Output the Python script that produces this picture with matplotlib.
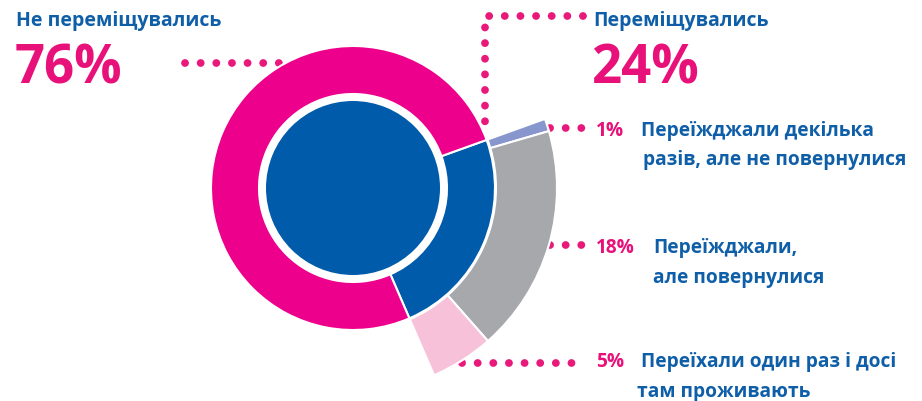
import matplotlib
matplotlib.use('Agg')
import matplotlib.pyplot as plt

W, H = 922, 401

# main split
main_labels = ['Не переміщувались', 'Переміщувались']
main_values = [76, 24]
main_pct = ['76%', '24%']

# breakdown of those who moved (clockwise from the top)
sub_values = [1, 18, 5]
sub_pct = ['1%', '18%', '5%']
sub_labels = ['Переїжджали декілька\nразів, але не повернулися',
              'Переїжджали,\nале повернулися',
              'Переїхали один раз і досі\nтам проживають']

PINK = '#ec008c'
BLUE = '#005baa'
DOT = '#e8197a'
TXT_PINK = '#e8117a'
TXT_BLUE = '#0f5ea8'
sub_colors = ['#8797ce', '#a7a8ac', '#f6c1d9']

plt.rcParams['font.family'] = ['Open Sans', 'DejaVu Sans']
plt.rcParams['font.weight'] = 'bold'

fig = plt.figure(figsize=(W / 100, H / 100), dpi=100)
ax = fig.add_axes([0, 0, 1, 1])

cx, cy = 353, H - 188
top_angle = 19.8
edge = dict(edgecolor='white', linewidth=1.5)

# outer exploded ring for the breakdown
w, _ = ax.pie(sub_values + [main_values[0]], colors=sub_colors + ['none'],
              startangle=top_angle, counterclock=False, radius=204,
              center=(cx, cy), wedgeprops=dict(width=61, **edge))
w[-1].set_visible(False)

# main ring
ax.pie([main_values[1], main_values[0]], colors=[BLUE, PINK],
       startangle=top_angle, counterclock=False, radius=142,
       center=(cx, cy), wedgeprops=dict(width=48, **edge))

# inner disc
ax.pie([1], colors=[BLUE], radius=87, center=(cx, cy))

ax.set_xlim(0, W)
ax.set_ylim(0, H)
ax.set_aspect('equal')
ax.axis('off')


def dotted(xs, ys):
    ax.plot(xs, [H - y for y in ys], color=DOT, lw=5.6,
            linestyle=(0, (0.01, 2.0)), dash_capstyle='round', zorder=0)


dotted([185, 280], [62.7, 62.7])
dotted([583, 485, 485], [15.7, 15.7, 134])
dotted([550, 585], [127.7, 127.7])
dotted([550, 585], [245, 245])
dotted([461.5, 585], [363, 363])

# headline texts
ax.text(16, H - 26, main_labels[0], color=TXT_BLUE, fontsize=14, va='baseline')
ax.text(15, H - 83, main_pct[0], color=TXT_PINK, fontsize=38, va='baseline')
ax.text(593, H - 26, main_labels[1], color=TXT_BLUE, fontsize=14, va='baseline')
ax.text(592, H - 83, main_pct[1], color=TXT_PINK, fontsize=38, va='baseline')

# breakdown labels
pct_y = [136, 253, 367]
lab_x = [641, 653, 641]
lab_x2 = [643, 653, 637]
for p, lab, y, x, x2 in zip(sub_pct, sub_labels, pct_y, lab_x, lab_x2):
    ax.text(596, H - y, p, color=TXT_PINK, fontsize=13.8, va='baseline')
    first, second = lab.split('\n')
    ax.text(x, H - y, first, color=TXT_BLUE, fontsize=13.8, va='baseline')
    ax.text(x2, H - y - 29.5, second, color=TXT_BLUE, fontsize=13.8,
            va='baseline')

fig.savefig('out.png', dpi=100)
